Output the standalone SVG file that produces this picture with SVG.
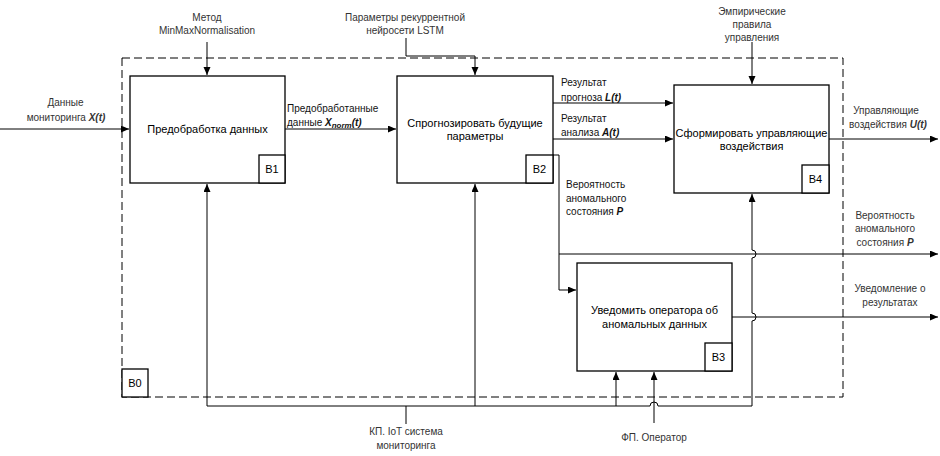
<svg xmlns="http://www.w3.org/2000/svg" width="940" height="456" viewBox="0 0 940 456">
<style>
.box{fill:#fff;stroke:#000;stroke-width:1.3}
.frame{fill:none;stroke:#000;stroke-width:1;stroke-dasharray:8 4}
.c{fill:none;stroke:#000;stroke-width:1}
.t{font-family:"Liberation Sans",Arial,sans-serif;font-size:11px;fill:#000}
.l{font-family:"Liberation Sans",Arial,sans-serif;font-size:10px;fill:#111}
.e{font-family:"Liberation Sans",Arial,sans-serif;font-size:10px;fill:#333}
.m{text-anchor:middle}
.bi{font-weight:bold;font-style:italic}
</style>
<defs>
<marker id="arr" markerUnits="userSpaceOnUse" markerWidth="9" markerHeight="8" refX="8" refY="3.5" orient="auto">
<path d="M0,0 L8,3.5 L0,7 z" fill="#000"/>
</marker>
</defs>
<rect class="frame" x="122" y="58" width="721" height="339"/>
<g id="B0">
<rect class="box" x="122" y="369" width="26" height="28"/>
<text class="t m" x="135" y="387">B0</text>
</g>
<g id="connectors">
<path class="c" d="M0 129 H129" marker-end="url(#arr)"/>
<path class="c" d="M207 42 V75" marker-end="url(#arr)"/>
<path class="c" d="M406 38 V56 H475 V75" marker-end="url(#arr)"/>
<path class="c" d="M752 42 V84" marker-end="url(#arr)"/>
<path class="c" d="M285 129 H396" marker-end="url(#arr)"/>
<path class="c" d="M553 103 H673" marker-end="url(#arr)"/>
<path class="c" d="M553 139 H673" marker-end="url(#arr)"/>
<path class="c" d="M829 139 H938" marker-end="url(#arr)"/>
<path class="c" d="M553 155 H559 V290 H576" marker-end="url(#arr)"/>
<path class="c" d="M559 254 H938" marker-end="url(#arr)"/>
<path class="c" d="M732 317 H938" marker-end="url(#arr)"/>
<path class="c" d="M207 406 H650 a4 4 0 0 1 8 0 H752"/>
<path class="c" d="M207 406 V184" marker-end="url(#arr)"/>
<path class="c" d="M475 406 V184" marker-end="url(#arr)"/>
<path class="c" d="M616 406 V372" marker-end="url(#arr)"/>
<path class="c" d="M752 406 V321 a4 4 0 0 0 0 -8 V258 a4 4 0 0 0 0 -8 V194" marker-end="url(#arr)"/>
<path class="c" d="M654 423 V372" marker-end="url(#arr)"/>
<path class="c" d="M406 406 V424"/>
</g>
<g id="B1">
<rect class="box" x="130" y="76" width="155" height="107"/>
<text class="t m" x="207.5" y="133">Предобработка данных</text>
<rect class="box" x="259" y="155" width="26" height="28"/>
<text class="t m" x="272" y="173">B1</text>
</g>
<g id="B2">
<rect class="box" x="397" y="76" width="156" height="107"/>
<text class="t m" x="475" y="127">Спрогнозировать будущие</text>
<text class="t m" x="475" y="140">параметры</text>
<rect class="box" x="526" y="155" width="27" height="28"/>
<text class="t m" x="539.5" y="173">B2</text>
</g>
<g id="B3">
<rect class="box" x="577" y="263" width="155" height="108"/>
<text class="t m" x="654.5" y="314">Уведомить оператора об</text>
<text class="t m" x="654.5" y="328">аномальных данных</text>
<rect class="box" x="705" y="343" width="27" height="28"/>
<text class="t m" x="718.5" y="361">B3</text>
</g>
<g id="B4">
<rect class="box" x="674" y="85" width="155" height="108"/>
<text class="t m" x="751.5" y="137">Сформировать управляющие</text>
<text class="t m" x="751.5" y="150">воздействия</text>
<rect class="box" x="802" y="165" width="27" height="28"/>
<text class="t m" x="815.5" y="183">B4</text>
</g>
<g id="labels">
<text class="e m" x="207" y="21">Метод</text>
<text class="e m" x="207" y="34">MinMaxNormalisation</text>
<text class="e m" x="405" y="21">Параметры рекуррентной</text>
<text class="e m" x="405" y="34">нейросети LSTM</text>
<text class="e m" x="752" y="15">Эмпирические</text>
<text class="e m" x="752" y="28">правила</text>
<text class="e m" x="752" y="41">управления</text>
<text class="e m" x="65.5" y="106">Данные</text>
<text class="e m" x="66" y="121">мониторинга <tspan class="bi">X(t)</tspan></text>
<text class="l" x="287" y="112">Предобработанные</text>
<text class="l" x="287" y="126">данные <tspan class="bi">X</tspan><tspan class="bi" font-size="8" dy="2">norm</tspan><tspan class="bi" dy="-2">(t)</tspan></text>
<text class="l" x="561" y="86">Результат</text>
<text class="l" x="561" y="101">прогноза <tspan class="bi">L(t)</tspan></text>
<text class="l" x="561" y="122">Результат</text>
<text class="l" x="561" y="136">анализа <tspan class="bi">A(t)</tspan></text>
<text class="l" x="566" y="188">Вероятность</text>
<text class="l" x="566" y="202">аномального</text>
<text class="l" x="566" y="215">состояния <tspan class="bi">P</tspan></text>
<text class="e m" x="886" y="114">Управляющие</text>
<text class="e m" x="888" y="128">воздействия <tspan class="bi">U(t)</tspan></text>
<text class="e m" x="885" y="219">Вероятность</text>
<text class="e m" x="885" y="232">аномального</text>
<text class="e m" x="885" y="246">состояния <tspan class="bi">P</tspan></text>
<text class="e m" x="890" y="292">Уведомление о</text>
<text class="e m" x="890" y="306">результатах</text>
<text class="e m" x="654" y="441">ФП. Оператор</text>
<text class="e m" x="406" y="435">КП. IoT система</text>
<text class="e m" x="406" y="449">мониторинга</text>
</g>
</svg>
